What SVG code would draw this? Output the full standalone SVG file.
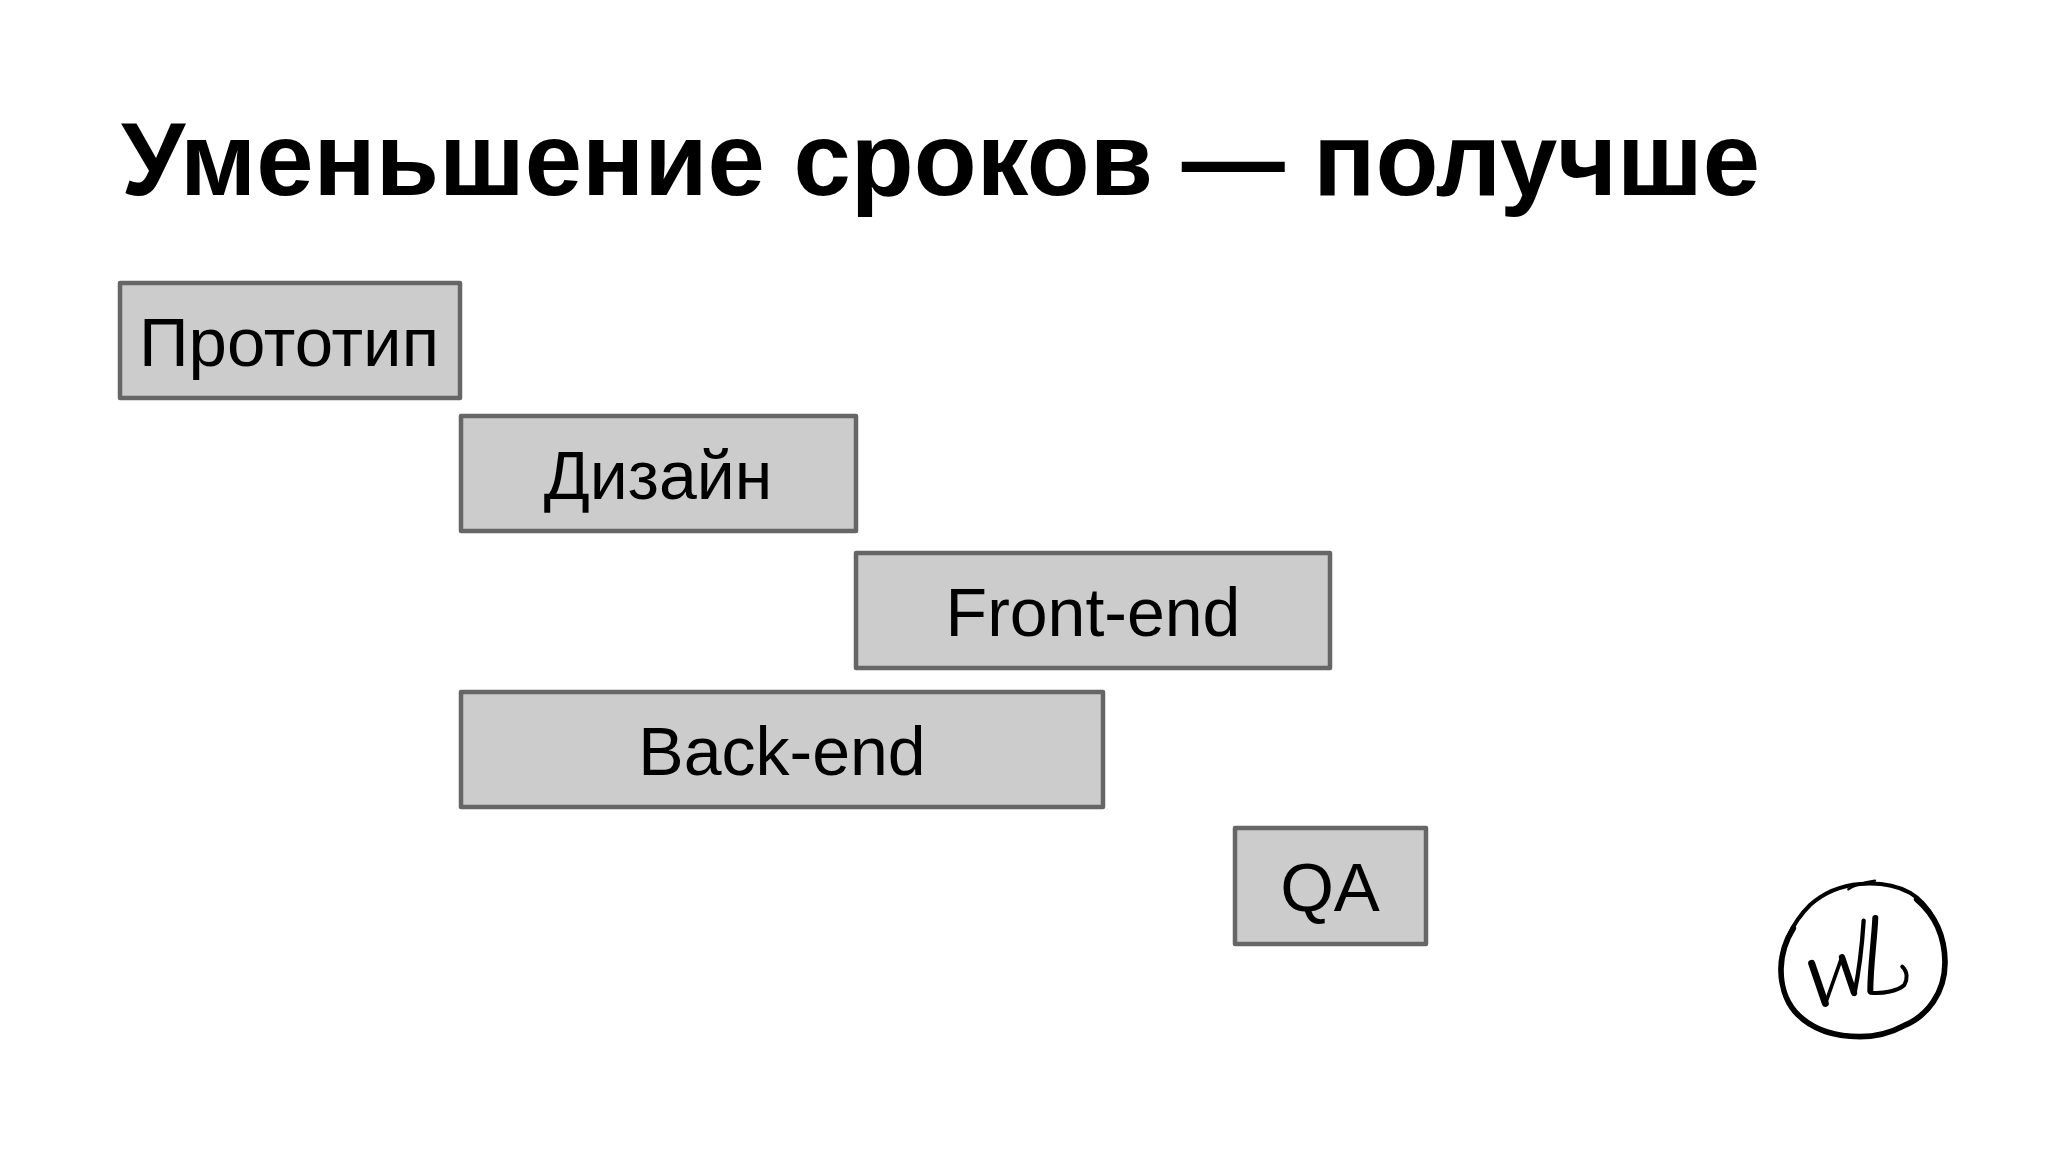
<svg xmlns="http://www.w3.org/2000/svg" width="2048" height="1152" viewBox="0 0 2048 1152">
<style>
.b{fill:#ccc;stroke:#666;stroke-width:4.5;stroke-linejoin:round}
.t{font-family:"Liberation Sans",Arial,sans-serif;font-size:68px;fill:#000;text-anchor:middle}
.w{font-size:69px}
.h{font-family:"Liberation Sans",Arial,sans-serif;font-size:103px;font-weight:bold;fill:#000}
.l{fill:none;stroke:#000;stroke-linecap:round;stroke-linejoin:round}
</style>
<rect width="2048" height="1152" fill="#fff"/>
<text id="title" class="h" x="121" y="195">Уменьшение сроков — получше</text>
<g id="n1"><rect class="b" x="120" y="283" width="340" height="115"/><text class="t w" x="289" y="366">Прототип</text></g>
<g id="n2"><rect class="b" x="461" y="416" width="395" height="115"/><text class="t" x="658" y="499">Дизайн</text></g>
<g id="n3"><rect class="b" x="856" y="553" width="474" height="115"/><text class="t" x="1093" y="636">Front-end</text></g>
<g id="n4"><rect class="b" x="461" y="692" width="642" height="115"/><text class="t" x="782" y="775">Back-end</text></g>
<g id="n5"><rect class="b" x="1235" y="828" width="191" height="116"/><text class="t w" x="1330" y="911">QA</text></g>
<g id="logo" transform="translate(1760 860) scale(.3333)">
<path class="l" stroke-width="7" d="M265 88C290 72 320 66 345 62"/>
<path class="l" stroke-width="12" d="M300 72C350 68 400 72 450 98C505 130 554 210 555 305C556 400 500 470 430 498C380 525 340 530 300 530C220 530 150 505 105 455C75 420 62 370 63 325C64 260 95 190 150 135C195 95 250 76 300 72"/>
<path class="l" stroke-width="17" d="M470 118C525 165 554 230 555 305C556 400 500 470 430 498C380 525 340 530 300 530C220 530 150 505 105 455C75 420 62 370 63 325C64 280 78 240 100 205"/>
<path class="l" stroke-width="21" d="M155 310L196 430"/>
<path class="l" stroke-width="11" d="M196 432L246 290"/>
<path class="l" stroke-width="19" d="M246 292L282 398"/>
<path class="l" stroke-width="13" d="M283 402C296 340 306 260 311 182"/>
<path class="l" stroke-width="18" d="M346 174C342 250 331 320 331 393"/>
<path class="l" stroke-width="12" d="M331 398C370 402 415 392 433 375C442 360 444 335 427 320"/>
</g>
</svg>
